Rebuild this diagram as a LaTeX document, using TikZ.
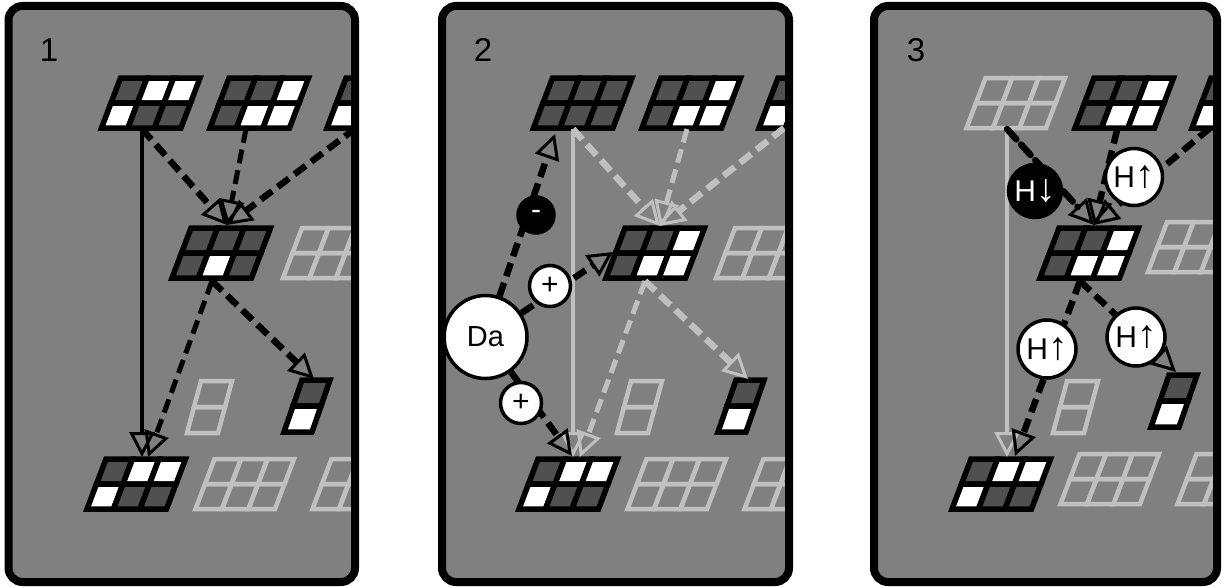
\documentclass[tikz,border=0pt]{standalone}
\usepackage{fontspec}
\setmainfont{Liberation Sans}
\usetikzlibrary{arrows.meta}
\definecolor{bgc}{RGB}{128,128,128}
\definecolor{dk}{RGB}{80,80,80}
\definecolor{lt}{RGB}{192,192,192}
\tikzset{
  cellb/.style={draw=black, line width=5.5pt},
  cellf/.style={draw=lt, line width=4.5pt},
  otip/.style={-{Triangle[open, length=25pt, width=25pt, line width=3pt]}},
  bsolid/.style={draw=black, line width=3.5pt, otip},
  gsolid/.style={draw=lt, line width=4pt, otip},
  bdash/.style={draw=black, line width=6.5pt, dash pattern=on 14pt off 7pt, otip},
  gdash/.style={draw=lt, line width=6.5pt, dash pattern=on 14pt off 7pt, otip},
  wc/.style={circle, draw=black, line width=3.5pt, fill=white, inner sep=0pt, font=\fontsize{30}{32}\selectfont},
  bc/.style={wc, fill=black, text=white},
  pnum/.style={font=\fontsize{33}{35}\selectfont, inner sep=0pt},
  frame/.style={draw=black, line width=8pt, rounded corners=14pt},
}
\newcommand\upa{\scalebox{1.3}{↑}}
\newcommand\dna{\scalebox{1.3}{↓}}
\newcommand\pgrid[5][cellb]{%
  \foreach \c [count=\i from 0] in {#4}
    \filldraw[#1, fill=\c] ({#2+26.5*\i},{#3}) -- ++(26.5,0) -- ++(-9.5,25) -- ++(-26.5,0) -- cycle;
  \foreach \c [count=\i from 0] in {#5}
    \filldraw[#1, fill=\c] ({#2-9.5+26.5*\i},{#3+25}) -- ++(26.5,0) -- ++(-9.5,25) -- ++(-26.5,0) -- cycle;
}
\newcommand\pcol[7][cellb]{%
  \filldraw[#1, fill=#6] (#2,#3) -- ++(#4,0) -- ++(-#5,26) -- ++(-#4,0) -- cycle;
  \filldraw[#1, fill=#7] ({#2-#5},{#3+26}) -- ++(#4,0) -- ++(-#5,26) -- ++(-#4,0) -- cycle;
}
\begin{document}
\begin{tikzpicture}[x=1pt,y=-1pt]
\useasboundingbox (0,0) rectangle (1222,586);

% ================= Panel 1 =================
\begin{scope}
  \begin{scope}
    \clip[rounded corners=14pt] (8.5,6) rectangle (355,582);
    \fill[bgc] (8.5,6) rectangle (355,582);
    \pgrid{120.5}{78}{dk,white,white}{white,dk,dk}
    \pgrid{229}{78}{dk,dk,white}{dk,white,white}
    \pgrid{346}{78}{dk,dk,white}{white,white,dk}
    \pgrid{191}{228}{dk,dk,dk}{dk,white,dk}
    \pgrid[cellf]{302}{228}{none,none,none}{none,none,none}
    \pcol[cellf]{201}{381}{31}{7}{none}{none}
    \pcol{302}{380}{28}{9}{dk}{white}
    \pgrid{106}{459}{dk,white,white}{white,dk,dk}
    \pgrid[cellf]{214.5}{459}{none,none,none}{none,none,none}
    \pgrid[cellf]{331.5}{459}{none,none,none}{none,none,none}
    \coordinate (pa1) at (142,129);
    \coordinate (pa2) at (246,129);
    \coordinate (pa3) at (356,128);
    \coordinate (pam) at (227,225);
    \coordinate (pamb) at (212,281);
    \coordinate (pab1) at (142,457);
    \coordinate (pab2) at (148,457);
    \coordinate (pac) at (314,379);
    \draw[bsolid] (pa1) -- (pab1);
    \draw[bdash] (pa1) -- (pam);
    \draw[bdash, line width=5pt] (pa2) -- (pam);
    \draw[bdash] (pa3) -- (pam);
    \draw[bdash, line width=5pt] (pamb) -- (pab2);
    \draw[bdash] (pamb) -- (pac);
  \end{scope}
  \draw[frame] (8.5,6) rectangle (355,582);
  \node[pnum] (n1) at (49,50) {1};
\end{scope}

% ================= Panel 2 =================
\begin{scope}[xshift=432pt]
  \begin{scope}
    \clip[rounded corners=14pt] (10,6) rectangle (357,582);
    \fill[bgc] (10,6) rectangle (357,582);
    \pgrid{120.5}{78}{dk,dk,dk}{dk,dk,dk}
    \pgrid{229}{78}{dk,dk,white}{dk,white,white}
    \pgrid{346}{78}{dk,dk,white}{white,white,dk}
    \pgrid{193}{228}{dk,dk,white}{dk,white,white}
    \pgrid[cellf]{303}{228}{none,none,none}{none,none,none}
    \pcol[cellf]{199}{381}{31}{7}{none}{none}
    \pcol{304}{380}{28}{9}{dk}{white}
    \pgrid{106}{459}{dk,white,white}{white,dk,dk}
    \pgrid[cellf]{214.5}{459}{none,none,none}{none,none,none}
    \pgrid[cellf]{331.5}{459}{none,none,none}{none,none,none}
    \coordinate (pb1) at (141,129);
    \coordinate (pb2) at (255,129);
    \coordinate (pb3) at (352,128);
    \coordinate (pbm) at (228,226);
    \coordinate (pbmb) at (213,281);
    \coordinate (pbb1) at (141,457);
    \coordinate (pbb2) at (148,457);
    \coordinate (pbc) at (316,379);
    \coordinate (pt1) at (123,134);
    \coordinate (pt2) at (181,252);
    \coordinate (pt3) at (140,456);
    \draw[gsolid] (pb1) -- (pbb1);
    \draw[gdash] (pb1) -- (pbm);
    \draw[gdash, line width=5pt] (pb2) -- (pbm);
    \draw[gdash] (pb3) -- (pbm);
    \draw[gdash, line width=5pt] (pbmb) -- (pbb2);
    \draw[gdash] (pbmb) -- (pbc);
    \node[wc, minimum size=83pt, font=\fontsize{29}{31}\selectfont] (da) at (53.5,337) {Da};
    \draw[bdash] (da) -- (pt1);
    \draw[bdash] (da) -- (pt2);
    \draw[bdash] (da) -- (pt3);
    \node[bc, minimum size=36pt] (minus) at (104,215) {-};
    \node[wc, minimum size=41pt] (plus1) at (118,286) {+};
    \node[wc, minimum size=41pt] (plus2) at (89,403) {+};
  \end{scope}
  \draw[frame] (10,6) rectangle (357,582);
  \node[pnum] (n2) at (51,50) {2};
\end{scope}

% ================= Panel 3 =================
\begin{scope}[xshift=865pt]
  \begin{scope}
    \clip[rounded corners=14pt] (9,6) rectangle (352,582);
    \fill[bgc] (9,6) rectangle (352,582);
    \pgrid[cellf]{120.5}{78}{none,none,none}{none,none,none}
    \pgrid{229}{78}{dk,dk,white}{dk,white,white}
    \pgrid{346}{78}{dk,dk,white}{white,white,dk}
    \pgrid{194}{228}{dk,dk,white}{dk,white,white}
    \pgrid[cellf]{302}{222}{none,none,none}{none,none,none}
    \pcol[cellf]{202}{381}{31}{7}{none}{none}
    \pcol{304}{375}{28}{9}{dk}{white}
    \pgrid{106}{459}{dk,white,white}{white,dk,dk}
    \pgrid[cellf]{214.5}{454}{none,none,none}{none,none,none}
    \pgrid[cellf]{331.5}{454}{none,none,none}{none,none,none}
    \coordinate (pc1) at (142,129);
    \coordinate (pc2) at (252,130);
    \coordinate (pc3) at (345,128);
    \coordinate (pcm) at (229,225);
    \coordinate (pcmb) at (215,281);
    \coordinate (pcb1) at (142,457);
    \coordinate (pcb2) at (150,456);
    \coordinate (pcc) at (311,372);
    \draw[gsolid] (pc1) -- (pcb1);
    \draw[bdash, line cap=round] (pc1) -- (pcm);
    \draw[bdash] (pc2) -- (pcm);
    \draw[bdash] (pc3) -- (pcm);
    \draw[bdash] (pcmb) -- (pcb2);
    \draw[bdash] (pcmb) -- (pcc);
    \node[bc, minimum size=53pt] (hd) at (170,191) {H\dna};
    \node[wc, minimum size=57pt] (hu1) at (269,177) {H\upa};
    \node[wc, minimum size=58pt] (hu2) at (182,349) {H\upa};
    \node[wc, minimum size=58pt] (hu3) at (271,337) {H\upa};
  \end{scope}
  \draw[frame] (9,6) rectangle (352,582);
  \node[pnum] (n3) at (51,50) {3};
\end{scope}
\end{tikzpicture}
\end{document}
